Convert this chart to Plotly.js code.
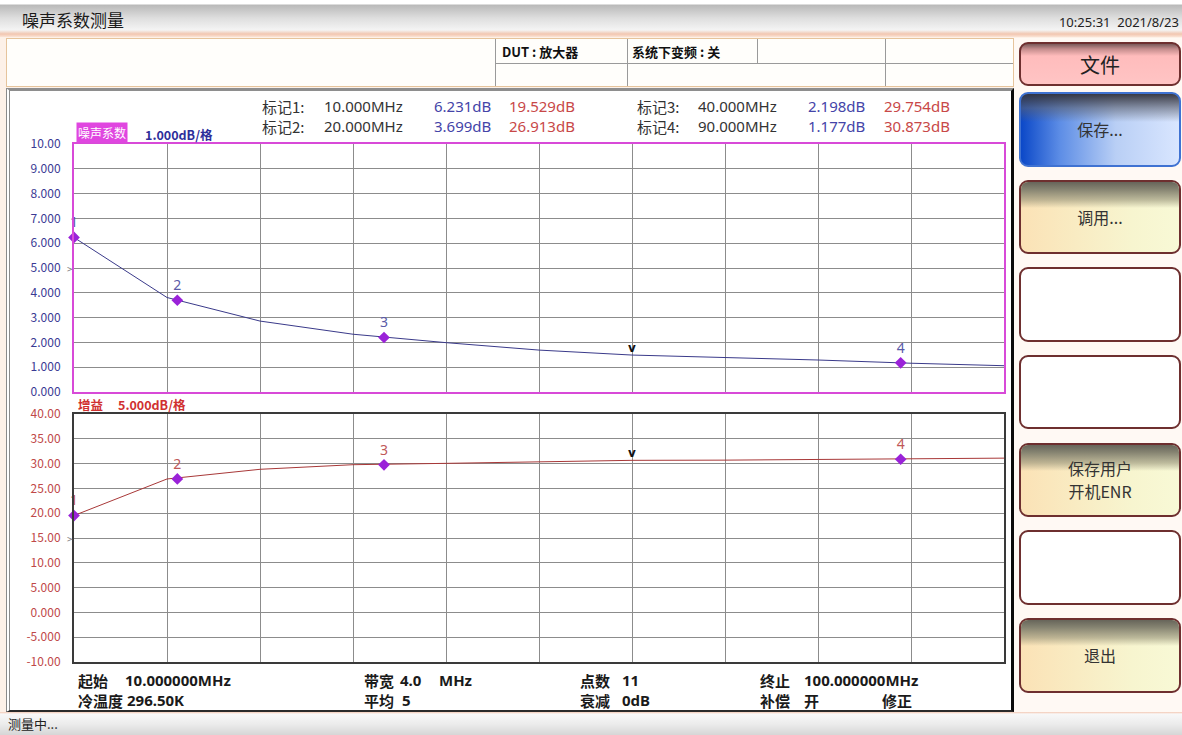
<!DOCTYPE html>
<html><head><meta charset="utf-8">
<script src="https://cdn.plot.ly/plotly-3.0.1.min.js"></script>
<style>
html,body{margin:0;padding:0;}
body{width:1182px;height:735px;position:relative;overflow:hidden;background:#fdf1e8;font-family:"Noto Sans CJK SC","Noto Sans",sans-serif;}
.abs{position:absolute;box-sizing:border-box;}
#titlebar{left:0;top:0;width:1182px;height:37px;background:linear-gradient(#ffffff 0,#ffffff 4px,#b9b9b9 5px,#dedede 18px,#f4f4f4 30px,#f2c6b0 34px,#fbe4d6 37px);}
#title{left:22px;top:8px;font-size:17px;color:#1a1a1a;line-height:24px;}
#clock{right:3px;top:13px;font-size:13px;color:#222;line-height:18px;font-family:"Noto Sans","Noto Sans CJK SC",sans-serif;}
#header{left:6px;top:38px;width:1008px;height:49px;background:#fffefb;border:1px solid #e6c49c;}
.vl{background:#9a9a9a;width:1px;}
.hl{background:#9a9a9a;height:1px;}
.htxt{font-size:13px;font-weight:bold;color:#111;line-height:18px;}
#panel{left:6px;top:88px;width:1008px;height:624px;background:#ffffff;border-left:4px double #8a8a8a;border-top:3px solid #8e8e8e;border-right:3px solid #0a0a0a;border-bottom:2px solid #2a2a2a;}
#side{left:1014px;top:38px;width:168px;height:674px;background:#fff9f4;}
.btn{left:1019px;width:162px;border:2px solid #6e2f2f;border-radius:9px;overflow:hidden;display:flex;align-items:center;justify-content:center;text-align:center;font-size:16px;color:#333;line-height:23px;}
.gloss::before{content:"";position:absolute;left:0;right:0;top:0;height:26px;background:linear-gradient(#67655a 0,#848270 7px,rgba(150,146,120,0.6) 18px,rgba(200,190,160,0) 26px);}
.cream{background:linear-gradient(to right,#fbe2b6,#f7f5cf 70%,#f8f9d6);}
.btn span{position:relative;}
#status{left:0;top:712px;width:1182px;height:23px;background:linear-gradient(#f3c9b4 0,#f8f8f8 2px,#ececec 12px,#d6d6d6 23px);}
#stext{left:8px;top:714px;font-size:13px;color:#222;line-height:20px;}
#plot{left:0;top:0;width:1182px;height:735px;z-index:5;}
</style></head>
<body>
<div class="abs" id="titlebar"></div>
<div class="abs" id="title">噪声系数测量</div>
<div class="abs" id="clock">10:25:31&nbsp;&nbsp;2021/8/23</div>
<div class="abs" id="header"></div>
<div class="abs vl" style="left:495px;top:39px;height:47px;"></div>
<div class="abs vl" style="left:627px;top:39px;height:47px;"></div>
<div class="abs vl" style="left:757px;top:39px;height:24px;"></div>
<div class="abs vl" style="left:885px;top:39px;height:47px;"></div>
<div class="abs hl" style="left:495px;top:63px;width:518px;"></div>
<div class="abs htxt" style="left:502px;top:43px;">DUT : 放大器</div>
<div class="abs htxt" style="left:632px;top:43px;">系统下变频 : 关</div>
<div class="abs" id="panel"></div>
<div class="abs" id="side"></div>
<div class="abs btn" style="top:42px;height:44px;background:linear-gradient(#7a5a5a 0,#c48c8c 5px,#ffbcbc 12px,#ffc4c4 100%);font-size:20px;color:#222;"><span>文件</span></div>
<div class="abs btn" style="top:92px;height:75px;border-color:#3f72d2;background:linear-gradient(rgba(50,50,60,0.95) 0,rgba(90,95,110,0.6) 14px,rgba(120,130,150,0) 28px),linear-gradient(to right,#0b48c8 0%,#5e8ee6 25%,#b9cff5 60%,#d9e6ff 100%);"><span>保存...</span></div>
<div class="abs btn gloss cream" style="top:180px;height:74px;"><span>调用...</span></div>
<div class="abs btn" style="top:267px;height:75px;background:#ffffff;"></div>
<div class="abs btn" style="top:355px;height:74px;background:#ffffff;"></div>
<div class="abs btn gloss cream" style="top:443px;height:74px;"><span>保存用户<br>开机ENR</span></div>
<div class="abs btn" style="top:530px;height:75px;background:#ffffff;"></div>
<div class="abs btn gloss cream" style="top:618px;height:75px;"><span>退出</span></div>
<div class="abs" id="status"></div>
<div class="abs" id="stext">测量中...</div>
<div class="abs" id="plot"></div>
<script>
// ---- data ----
const freqMHz = [10, 19, 28, 37, 46, 55, 64, 73, 82, 91, 100];
const noiseFigureDb = [6.23, 3.81, 2.86, 2.33, 1.99, 1.69, 1.49, 1.40, 1.29, 1.16, 1.06];
const gainDb = [19.53, 26.9, 28.85, 29.78, 30.05, 30.4, 30.66, 30.7, 30.85, 30.9, 31.1];
const markerIds = ['1', '2', '3', '4'];
const markerFreqMHz = [10, 20, 40, 90];
const markerNoiseFigureDb = [6.231, 3.699, 2.198, 1.177];
const markerGainDb = [19.529, 26.913, 29.754, 30.873];
const sweepFreqMHz = [64];
const nfTickVals = [0, 1, 2, 3, 4, 5, 6, 7, 8, 9, 10];
const nfTickText = ['0.000', '1.000', '2.000', '3.000', '4.000', '5.000', '6.000', '7.000', '8.000', '9.000', '10.00'];
const gainTickVals = [-10, -5, 0, 5, 10, 15, 20, 25, 30, 35, 40];
const gainTickText = ['-10.00', '-5.000', '0.000', '5.000', '10.00', '15.00', '20.00', '25.00', '30.00', '35.00', '40.00'];
const nfRefLevel = 5;
const gainRefLevel = 15;
const infoRow1 = [['起始', '10.000000MHz'], ['带宽', '4.0', 'MHz'], ['点数', '11'], ['终止', '100.000000MHz']];
const infoRow2 = [['冷温度', '296.50K'], ['平均', '5'], ['衰减', '0dB'], ['补偿', '开', '修正']];

// ---- geometry helpers ----
const W = 1182, H = 735;
const px = x => x / W, py = y => 1 - y / H;
const FONT = '"Noto Sans CJK SC","Noto Sans",sans-serif';
const LATIN = '"Noto Sans","Noto Sans CJK SC",sans-serif';
const nfColor = '#3a3a94', gainColor = '#c04848', mkColor = '#9a22d8';
const isCJK = s => /[\u4e00-\u9fff]/.test(s);

const sweepNF = sweepFreqMHz.map(f => noiseFigureDb[freqMHz.indexOf(f)]);
const sweepGain = sweepFreqMHz.map(f => gainDb[freqMHz.indexOf(f)]);

const traces = [
  {x: freqMHz, y: noiseFigureDb, xaxis: 'x', yaxis: 'y', mode: 'lines', line: {color: '#3a3a8a', width: 1}, hoverinfo: 'skip'},
  {x: freqMHz, y: gainDb, xaxis: 'x2', yaxis: 'y2', mode: 'lines', line: {color: '#a83838', width: 1}, hoverinfo: 'skip'},
  {x: markerFreqMHz, y: markerNoiseFigureDb, xaxis: 'x', yaxis: 'y', mode: 'markers+text', text: markerIds, textposition: 'top center',
   textfont: {color: '#5a5aa8', size: 14, family: LATIN}, marker: {symbol: 'diamond', size: 9, color: mkColor}, cliponaxis: false},
  {x: markerFreqMHz, y: markerGainDb, xaxis: 'x2', yaxis: 'y2', mode: 'markers+text', text: markerIds, textposition: 'top center',
   textfont: {color: '#c05858', size: 14, family: LATIN}, marker: {symbol: 'diamond', size: 9, color: mkColor}, cliponaxis: false},
  {x: sweepFreqMHz, y: sweepNF, xaxis: 'x', yaxis: 'y', mode: 'text', text: ['<b>v</b>'], textposition: 'top center',
   textfont: {color: '#111', size: 12, family: 'DejaVu Sans'}, cliponaxis: false},
  {x: sweepFreqMHz, y: sweepGain, xaxis: 'x2', yaxis: 'y2', mode: 'text', text: ['<b>v</b>'], textposition: 'top center',
   textfont: {color: '#111', size: 12, family: 'DejaVu Sans'}, cliponaxis: false}
];

const xCommon = {range: [10, 100], tick0: 10, dtick: 9, showgrid: true, gridcolor: '#8c8c8c', gridwidth: 1,
  showticklabels: false, ticks: '', zeroline: false, showline: true, mirror: true, linewidth: 2,
  domain: [px(74), px(1004)], fixedrange: true};
const yCommon = {tickmode: 'array', showgrid: true, gridcolor: '#8c8c8c', gridwidth: 1, ticks: '', zeroline: false,
  showline: true, mirror: true, linewidth: 2, ticklabelstandoff: 9, fixedrange: true};

const ann = [];
function addText(x, y, text, opts) {
  ann.push(Object.assign({xref: 'paper', yref: 'paper', x: px(x), y: py(y), text: text, showarrow: false,
    xanchor: 'left', yanchor: 'middle', font: {family: isCJK(text) ? FONT : LATIN, size: 15, color: '#333'}}, opts || {}));
}
// marker readout: two columns, each with two rows (one multi-line annotation per field)
[[0, 1], [2, 3]].forEach((pair, col) => {
  const y = 116;
  const x0 = col === 0 ? 260 : 635;
  const xf = col === 0 ? 322 : 696;
  const xn = col === 0 ? 493 : 867;
  const xg = col === 0 ? 507 : 882;
  addText(x0, y, pair.map(i => '标记' + markerIds[i] + ':').join('<br>'), {align: 'left', font: {family: FONT, size: 15, color: '#333'}});
  addText(xf, y, pair.map(i => markerFreqMHz[i].toFixed(3) + 'MHz').join('<br>'), {align: 'left', font: {family: LATIN, size: 15, color: '#333'}});
  addText(xn, y, pair.map(i => markerNoiseFigureDb[i].toFixed(3) + 'dB').join('<br>'), {xanchor: 'right', align: 'right', font: {family: LATIN, size: 15, color: '#4444a8'}});
  addText(xg, y, pair.map(i => markerGainDb[i].toFixed(3) + 'dB').join('<br>'), {align: 'left', font: {family: LATIN, size: 15, color: '#c84848'}});
});
// scale labels
addText(76, 143, '噪声系数', {yanchor: 'bottom', bgcolor: '#e046e0', borderpad: 1, font: {family: FONT, size: 12, color: '#ffffff'}});
addText(143, 134, '1.000dB/格', {font: {family: FONT, size: 12.5, color: '#2e2e9a', weight: 'bold'}});
addText(76, 404, '增益', {font: {family: FONT, size: 12.5, color: '#d03030', weight: 'bold'}});
addText(116, 404, '5.000dB/格', {font: {family: FONT, size: 12.5, color: '#d03030', weight: 'bold'}});
// reference level indicators
ann.push({xref: 'paper', yref: 'y', x: px(70), y: nfRefLevel, text: '>', showarrow: false, xanchor: 'center', yanchor: 'middle', font: {family: FONT, size: 10, color: '#777'}});
ann.push({xref: 'paper', yref: 'y2', x: px(70), y: gainRefLevel, text: '>', showarrow: false, xanchor: 'center', yanchor: 'middle', font: {family: FONT, size: 10, color: '#777'}});
// bottom info
const colX = [[76, 123], [362, 398, 437], [578, 620], [758, 802, 880]];
const colX2 = [[76, 125], [362, 400], [578, 620], [758, 802, 880]];
infoRow1.forEach((parts, c) => parts.forEach((t, k) => addText(colX[c][k], 680, t,
  {font: {family: isCJK(t) ? FONT : LATIN, size: 15, color: '#1a1a1a', weight: 'bold'}})));
infoRow2.forEach((parts, c) => parts.forEach((t, k) => addText(colX2[c][k], 700, t,
  {font: {family: isCJK(t) ? FONT : LATIN, size: 15, color: '#1a1a1a', weight: 'bold'}})));

const layout = {
  width: W, height: H, margin: {l: 0, r: 0, t: 0, b: 0},
  paper_bgcolor: 'rgba(0,0,0,0)', plot_bgcolor: '#ffffff', showlegend: false,
  font: {family: FONT},
  xaxis: Object.assign({}, xCommon, {anchor: 'y', linecolor: '#d84ad8'}),
  yaxis: Object.assign({}, yCommon, {anchor: 'x', range: [0, 10], tickvals: nfTickVals, ticktext: nfTickText,
    linecolor: '#d84ad8', tickfont: {family: FONT, size: 12, color: nfColor}, domain: [py(392), py(144)]}),
  xaxis2: Object.assign({}, xCommon, {anchor: 'y2', linecolor: '#3a3a3a'}),
  yaxis2: Object.assign({}, yCommon, {anchor: 'x2', range: [-10, 40], tickvals: gainTickVals, ticktext: gainTickText,
    linecolor: '#3a3a3a', tickfont: {family: FONT, size: 12, color: gainColor}, domain: [py(662), py(414)]}),
  annotations: ann
};
Plotly.newPlot('plot', traces, layout, {staticPlot: true, displayModeBar: false});
</script>
</body></html>
